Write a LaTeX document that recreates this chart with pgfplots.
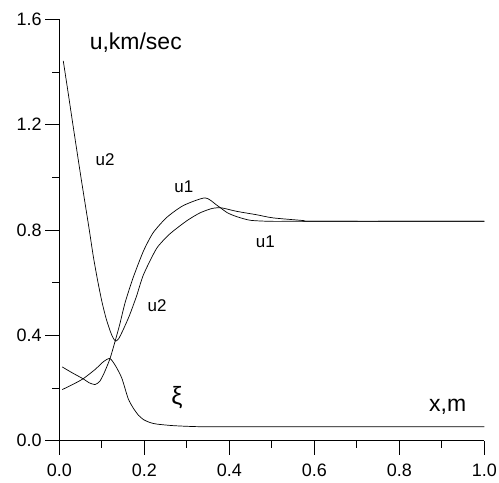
\documentclass[border=0pt]{standalone}
\usepackage{fontspec}
\setmainfont{Liberation Sans}
\usepackage{pgfplots}
\pgfplotsset{compat=1.18}
\begin{document}
\begin{tikzpicture}
\begin{axis}[
  scale only axis, width=424bp, height=420.3bp,
  xmin=0, xmax=1, ymin=0, ymax=1.6,
  axis x line*=bottom, axis y line*=left,
  axis line style={-, line width=0.8bp},
  xtick={0,0.2,0.4,0.6,0.8,1.0}, ytick={0,0.4,0.8,1.2,1.6},
  minor x tick num=1, minor y tick num=1,
  tick align=outside, major tick length=14bp, minor tick length=7bp,
  major tick style={black, line width=0.8bp},
  minor tick style={black, line width=0.8bp},
  /pgf/number format/assume math mode=true,
  /pgf/number format/fixed, /pgf/number format/fixed zerofill, /pgf/number format/precision=1,
  ticklabel style={font=\fontsize{18}{18}\selectfont},
  xticklabel style={yshift=-6bp},
  clip=false,
]
% u2
\addplot[black, line width=0.7bp, smooth, tension=0.4] coordinates {
(0.0094,1.442)(0.02,1.33)(0.033,1.19)(0.051,1.0)(0.0706,0.8)(0.08,0.70)(0.09,0.61)(0.10,0.53)
(0.11,0.465)(0.12,0.415)(0.127,0.389)(0.133,0.378)(0.14,0.388)(0.15,0.42)(0.165,0.475)
(0.182,0.55)(0.198,0.63)(0.229,0.73)(0.26,0.785)(0.30,0.835)(0.331,0.865)(0.36,0.882)
(0.382,0.884)(0.417,0.871)(0.464,0.858)(0.503,0.846)(0.574,0.836)(0.6,0.833)(1.0,0.833)};
% u1
\addplot[black, line width=0.7bp, smooth, tension=0.4] coordinates {
(0.007,0.280)(0.03,0.258)(0.056,0.235)(0.07,0.22)(0.084,0.213)(0.095,0.225)(0.105,0.255)
(0.119,0.31)(0.13,0.37)(0.142,0.44)(0.155,0.525)(0.174,0.62)(0.198,0.72)(0.221,0.79)
(0.253,0.848)(0.292,0.893)(0.343,0.922)(0.37,0.895)(0.395,0.866)(0.417,0.851)(0.449,0.837)
(0.496,0.833)(0.574,0.833)(1.0,0.833)};
% xi
\addplot[black, line width=0.7bp, smooth, tension=0.4] coordinates {
(0.007,0.194)(0.03,0.212)(0.056,0.235)(0.084,0.27)(0.104,0.30)(0.119,0.312)(0.132,0.285)
(0.147,0.238)(0.162,0.16)(0.174,0.124)(0.186,0.097)(0.198,0.080)(0.213,0.069)(0.229,0.063)
(0.268,0.057)(0.331,0.053)(0.449,0.053)(1.0,0.053)};
\node[font=\fontsize{23}{23}\selectfont] at (axis cs:0.18,1.513) {u,km/sec};
\node[font=\fontsize{23}{23}\selectfont] at (axis cs:0.914,0.127) {x,m};
\node[font=\fontsize{17}{17}\selectfont] at (axis cs:0.108,1.068) {u2};
\node[font=\fontsize{17}{17}\selectfont] at (axis cs:0.293,0.965) {u1};
\node[font=\fontsize{17}{17}\selectfont] at (axis cs:0.485,0.757) {u1};
\node[font=\fontsize{17}{17}\selectfont] at (axis cs:0.23,0.512) {u2};
\node[font=\fontsize{25}{25}\selectfont] at (axis cs:0.277,0.165) {ξ};
\coordinate (bl) at (axis cs:-0.1395,-0.1589);
\coordinate (tr) at (axis cs:1.0346,1.6735);
\end{axis}
\pgfresetboundingbox
\path[use as bounding box] (bl) rectangle (tr);
\end{tikzpicture}
\end{document}
